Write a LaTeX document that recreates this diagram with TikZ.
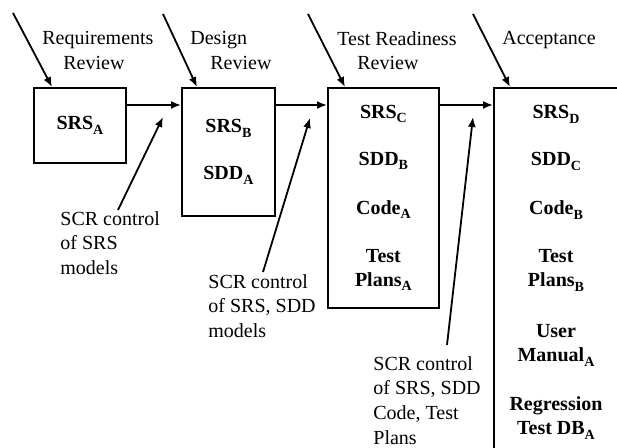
\documentclass[tikz,border=0pt]{standalone}
\usepackage{fontspec}
\setmainfont{Liberation Serif}
\usetikzlibrary{arrows.meta}
% version subscript: about 70% size, dropped below the baseline
\newcommand\vsub[1]{\raisebox{-2.2pt}{\fontsize{7}{7}\selectfont #1}}
\begin{document}
\begin{tikzpicture}[x=0.5pt,y=-0.5pt,
  arr/.style={line width=0.9pt,-{Latex[length=5pt,width=4pt]}},
  stagebox/.style={draw,line width=0.9pt,anchor=north west,inner sep=0pt,
    align=center,font=\fontsize{10}{12}\selectfont\bfseries},
  lbl/.style={anchor=north west,inner sep=0pt,align=left,
    font=\fontsize{10}{12.3}\selectfont},
  contents/.style={inner sep=0pt,align=center,
    font=\fontsize{10}{12}\selectfont\bfseries}]
\useasboundingbox (0,0) rectangle (617,448);
\clip (0,0) rectangle (617,448);

% stage boxes
\node[stagebox,minimum width=46pt,minimum height=37.5pt] (b1) at (33,87)
  {SRS\vsub{A}};
\node[stagebox,minimum width=46.5pt,minimum height=64pt] (b2) at (181,87)
  {SRS\vsub{B}\\[11.5pt]SDD\vsub{A}};
\node[stagebox,minimum width=55.5pt,minimum height=110pt] (b3) at (327,87)
  {SRS\vsub{C}\\[11.5pt]SDD\vsub{B}\\[12.5pt]Code\vsub{A}\\[12pt]Test\\Plans\vsub{A}};
\node[stagebox,minimum width=75pt,minimum height=190pt] (b4) at (493,87) {};
\node[contents,anchor=north] (c4) at (556,105)
  {SRS\vsub{D}\\[11.5pt]SDD\vsub{C}\\[12.5pt]Code\vsub{B}\\[12pt]Test\\Plans\vsub{B}\\[13.5pt]User\\Manual\vsub{A}\\[12.5pt]Regression\\Test DB\vsub{A}};

% flow between stages
\draw[arr] ([yshift=-9pt]b1.north east) -- ([yshift=-9pt]b2.north west);
\draw[arr] ([yshift=-9pt]b2.north east) -- ([yshift=-9pt]b3.north west);
\draw[arr] ([yshift=-9pt]b3.north east) -- ([yshift=-9pt]b4.north west);

% review milestones
\node[lbl] (r1) at (42,31) {Requirements\\\hspace*{10.5pt}Review};
\node[lbl] (r2) at (190,31) {Design\\\hspace*{10pt}Review};
\node[lbl] (r3) at (337,31) {Test Readiness\\\hspace*{10pt}Review};
\node[lbl] (r4) at (502,31) {Acceptance};
\coordinate (t1) at (13,13);
\coordinate (t2) at (163,14);
\coordinate (t3) at (308,14);
\coordinate (t4) at (473,14);
\draw[arr] (t1) -- ([xshift=9.5pt]b1.north west);
\draw[arr] (t2) -- ([xshift=8pt]b2.north west);
\draw[arr] (t3) -- ([xshift=9pt]b3.north west);
\draw[arr] (t4) -- ([xshift=8.5pt]b4.north west);

% configuration control notes
\node[lbl] (s1) at (60,211) {SCR control\\of SRS\\models};
\node[lbl] (s2) at (208,274) {SCR control\\of SRS, SDD\\models};
\node[lbl] (s3) at (373,356) {SCR control\\of SRS, SDD\\Code, Test\\Plans};
\coordinate (k1) at (163,117);
\coordinate (k2) at (310,118);
\coordinate (k3) at (473,117);
\draw[arr] ([xshift=29pt,yshift=0.5pt]s1.north west) -- (k1);
\draw[arr] ([xshift=27.5pt,yshift=1pt]s2.north west) -- (k2);
\draw[arr] ([xshift=37pt,yshift=5.5pt]s3.north west) -- (k3);
\end{tikzpicture}
\end{document}
